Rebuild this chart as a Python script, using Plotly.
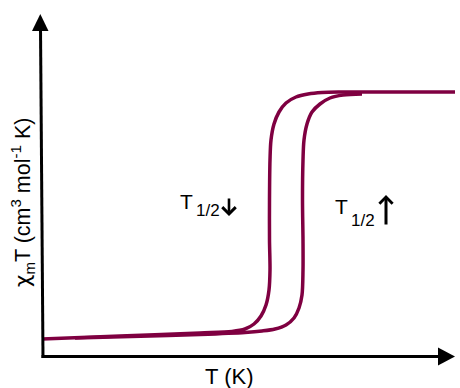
import plotly.graph_objects as go

# Spin-crossover hysteresis loop (schematic): chi_m*T against T
# Cooling branch (high spin -> low spin), read as (T, chiT) pairs
cool_T = [413, 358, 298, 280, 266, 254, 244, 237, 232, 229, 228, 227.5, 227.5, 228, 227, 224, 219, 212, 203, 190, 158, 78, 0]
cool_chiT = [2.65, 2.65, 2.65, 2.645, 2.63, 2.60, 2.54, 2.45, 2.33, 2.17, 1.97, 1.57, 1.17, 0.87, 0.67, 0.52, 0.41, 0.33, 0.28, 0.255, 0.24, 0.21, 0.18]

# Warming branch (low spin -> high spin)
warm_T = [33, 108, 158, 203, 220, 233, 244, 252, 257, 260, 261, 261, 260.5, 261, 262, 265, 270, 278, 288, 301, 320]
warm_chiT = [0.19, 0.21, 0.225, 0.245, 0.26, 0.28, 0.32, 0.39, 0.49, 0.62, 0.87, 1.17, 1.57, 1.97, 2.17, 2.33, 2.45, 2.53, 2.59, 2.62, 2.63]

LOOP_COLOR = "#7f0041"
FONT = "Liberation Sans, Arial, sans-serif"
TXT = dict(family=FONT, color="black")

# figure geometry (pixels)
W, H = 460, 388
ML, MR, MT, MB = 42, 5, 14, 31
PW, PH = W - ML - MR, H - MT - MB


def px(x):
    return (x - ML) / PW


def py(y):
    return (H - MB - y) / PH


fig = go.Figure()
for T, chi in ((cool_T, cool_chiT), (warm_T, warm_chiT)):
    fig.add_trace(go.Scatter(
        x=T, y=chi, mode="lines",
        line=dict(color=LOOP_COLOR, width=3.5, shape="spline", smoothing=0.9),
        hoverinfo="skip", showlegend=False, cliponaxis=False,
    ))

shapes = [
    # vertical axis with arrowhead
    dict(type="line", xref="paper", yref="paper", x0=px(43), y0=py(358), x1=px(40.5), y1=py(28),
         line=dict(color="black", width=3)),
    dict(type="path", xref="paper", yref="paper",
         path=f"M {px(40.3)} {py(14)} L {px(48.5)} {py(31)} L {px(32)} {py(31)} Z",
         fillcolor="black", line=dict(color="black", width=0)),
    # horizontal axis with arrowhead
    dict(type="line", xref="paper", yref="paper", x0=px(41.5), y0=py(356.5), x1=px(440), y1=py(356.5),
         line=dict(color="black", width=3.2)),
    dict(type="path", xref="paper", yref="paper",
         path=f"M {px(455)} {py(356.5)} L {px(438)} {py(347.5)} L {px(438)} {py(365.5)} Z",
         fillcolor="black", line=dict(color="black", width=0)),
]


def label(text, x, y, size, xanchor="left", **kw):
    return dict(text=text, xref="paper", yref="paper", x=px(x), y=py(y), showarrow=False,
                font=dict(size=size, **TXT), xanchor=xanchor, yanchor="middle", **kw)


annotations = [
    label("T (K)", 229, 376, 22, xanchor="center"),
    label("<span style=\"font-family:'DejaVu Sans'\">χ</span><sub>m</sub>T "
          "(cm<sup>3</sup> mol<sup>-1</sup> K)", 23, 203, 21.5,
          xanchor="center", textangle=-90),
    # transition temperature on cooling
    label("T", 178, 201, 21),
    label("1/2", 194, 210, 17),
    # transition temperature on warming
    label("T", 333, 206, 21),
    label("1/2", 349, 220, 17),
    # down arrow (cooling transition)
    dict(text="", xref="paper", yref="paper", x=px(229), y=py(216),
         ax=0, ay=-19, showarrow=True, arrowhead=4, arrowsize=1.0, arrowwidth=2.6,
         arrowcolor="black"),
    # up arrow (warming transition)
    dict(text="", xref="paper", yref="paper", x=px(386), y=py(195),
         ax=0, ay=31, showarrow=True, arrowhead=4, arrowsize=0.85, arrowwidth=3,
         arrowcolor="black"),
]

fig.update_layout(
    width=W, height=H,
    margin=dict(l=ML, r=MR, t=MT, b=MB),
    paper_bgcolor="white", plot_bgcolor="white",
    xaxis=dict(range=[0, PW], visible=False, fixedrange=True),
    yaxis=dict(range=[0, PH / 100], visible=False, fixedrange=True),
    shapes=shapes, annotations=annotations,
    showlegend=False,
)

fig.write_html("out.html")
